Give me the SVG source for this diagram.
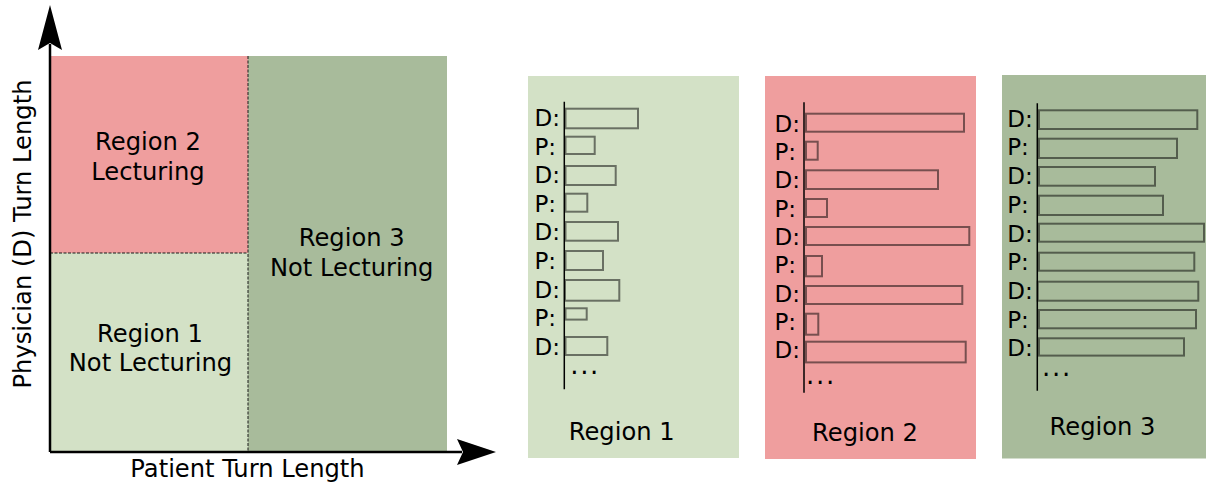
<svg xmlns="http://www.w3.org/2000/svg" width="1206" height="483" viewBox="0 0 1206 483">
<style>
text{font-family:"DejaVu Sans","Liberation Sans",sans-serif;fill:#000}
.big{font-size:24.2px;text-anchor:middle}
.lab{font-size:23px}
.dots{font-size:26px;letter-spacing:1.7px}
.bar{fill:none;stroke:#000;stroke-opacity:0.5;stroke-width:2}
.vline{stroke:#000;stroke-width:1.5}
.dash{stroke:#1a1a1a;stroke-width:1;stroke-dasharray:3,1.5;fill:none}
.axis{stroke:#000;stroke-width:2.5;fill:none}
.g1{fill:#d3e1c6}.g2{fill:#ef9e9e}.g3{fill:#a8bb9b}
</style>
<g id="chart">
<g id="region1"><rect class="g1" x="50" y="253" width="198" height="199"/><text class="big" x="150" y="341.7">Region 1</text><text class="big" x="150.5" y="370.7">Not Lecturing</text></g>
<g id="region2"><rect class="g2" x="50" y="56" width="198" height="197"/><text class="big" x="148" y="149.5">Region 2</text><text class="big" x="148" y="179.5">Lecturing</text></g>
<g id="region3"><rect class="g3" x="248" y="56" width="199" height="396"/><text class="big" x="351.7" y="245.7">Region 3</text><text class="big" x="351.7" y="275.7">Not Lecturing</text></g>
</g>
<g id="connectors">
<path class="dash" d="M50,253 H248 M248,56 V452"/>
<path class="axis" d="M50,452 V44 M50,452 H462"/>
<path d="M50,5 L62,50 L50,43 L38,50 Z" fill="#000"/>
<path d="M496,452 L457,439 L463,452 L457,465 Z" fill="#000"/>
</g>
<g id="axis-labels">
<text class="big" x="247.5" y="476.5">Patient Turn Length</text>
<text class="big" transform="translate(31,234) rotate(-90)">Physician (D) Turn Length</text>
</g>
<g id="panel1">
<rect class="g1" x="528" y="76" width="211" height="382"/>
<line class="vline" x1="564.3" y1="101.7" x2="564.3" y2="389.3"/>
<rect class="bar" x="565.5" y="108.7" width="72.5" height="19.6"/>
<rect class="bar" x="565.5" y="136.7" width="29.2" height="17.3"/>
<rect class="bar" x="565.5" y="166" width="50.2" height="19"/>
<rect class="bar" x="565.5" y="193.7" width="21.8" height="18"/>
<rect class="bar" x="565.5" y="222" width="52.5" height="18.7"/>
<rect class="bar" x="565.5" y="251" width="37.5" height="19"/>
<rect class="bar" x="565" y="280" width="54.3" height="20.7"/>
<rect class="bar" x="565.5" y="308.3" width="21.2" height="11.3"/>
<rect class="bar" x="565.5" y="337" width="41.8" height="18"/>
<text class="lab" x="534.5" y="125.9">D:</text>
<text class="lab" x="534.5" y="154.5">P:</text>
<text class="lab" x="534.5" y="183.1">D:</text>
<text class="lab" x="534.5" y="211.7">P:</text>
<text class="lab" x="534.5" y="240.3">D:</text>
<text class="lab" x="534.5" y="268.9">P:</text>
<text class="lab" x="534.5" y="297.5">D:</text>
<text class="lab" x="534.5" y="326.1">P:</text>
<text class="lab" x="534.5" y="354.7">D:</text>
<text class="dots" x="570.2" y="373.5">...</text>
<text class="big" x="621.7" y="440">Region 1</text>
</g>
<g id="panel2">
<rect class="g2" x="765" y="76" width="211" height="383"/>
<line class="vline" x1="804" y1="102.3" x2="804" y2="392.7"/>
<rect class="bar" x="806" y="113.7" width="158" height="18"/>
<rect class="bar" x="806" y="141.7" width="11.7" height="18"/>
<rect class="bar" x="806" y="170.3" width="132" height="18.7"/>
<rect class="bar" x="806" y="199" width="21" height="18"/>
<rect class="bar" x="806" y="227" width="163.3" height="18"/>
<rect class="bar" x="806" y="256" width="16" height="20.3"/>
<rect class="bar" x="806" y="286" width="156.3" height="18"/>
<rect class="bar" x="806" y="313.7" width="12.3" height="21"/>
<rect class="bar" x="806" y="341.7" width="159.7" height="20.7"/>
<text class="lab" x="774.5" y="131.7">D:</text>
<text class="lab" x="774.5" y="160">P:</text>
<text class="lab" x="774.5" y="188.3">D:</text>
<text class="lab" x="774.5" y="216.6">P:</text>
<text class="lab" x="774.5" y="244.9">D:</text>
<text class="lab" x="774.5" y="273.2">P:</text>
<text class="lab" x="774.5" y="301.5">D:</text>
<text class="lab" x="774.5" y="329.8">P:</text>
<text class="lab" x="774.5" y="358.1">D:</text>
<text class="dots" x="806" y="383.5">...</text>
<text class="big" x="865" y="441">Region 2</text>
</g>
<g id="panel3">
<rect class="g3" x="1002" y="75" width="204" height="383.5"/>
<line class="vline" x1="1037.3" y1="103.3" x2="1037.3" y2="390.7"/>
<rect class="bar" x="1039" y="110.3" width="158.3" height="18.7"/>
<rect class="bar" x="1039" y="138.7" width="138" height="19.3"/>
<rect class="bar" x="1039" y="167" width="116" height="18.7"/>
<rect class="bar" x="1039" y="195.7" width="124" height="19.3"/>
<rect class="bar" x="1039" y="223.7" width="165" height="18"/>
<rect class="bar" x="1039" y="252.7" width="155.3" height="18"/>
<rect class="bar" x="1037.7" y="281.7" width="160.6" height="19"/>
<rect class="bar" x="1039" y="310" width="157" height="18.3"/>
<rect class="bar" x="1039" y="338.3" width="145" height="17.3"/>
<text class="lab" x="1007.2" y="126.7">D:</text>
<text class="lab" x="1007.2" y="155.4">P:</text>
<text class="lab" x="1007.2" y="184.1">D:</text>
<text class="lab" x="1007.2" y="212.8">P:</text>
<text class="lab" x="1007.2" y="241.5">D:</text>
<text class="lab" x="1007.2" y="270.2">P:</text>
<text class="lab" x="1007.2" y="298.9">D:</text>
<text class="lab" x="1007.2" y="327.6">P:</text>
<text class="lab" x="1007.2" y="356.3">D:</text>
<text class="dots" x="1042" y="375.8">...</text>
<text class="big" x="1102.5" y="435">Region 3</text>
</g>
</svg>
